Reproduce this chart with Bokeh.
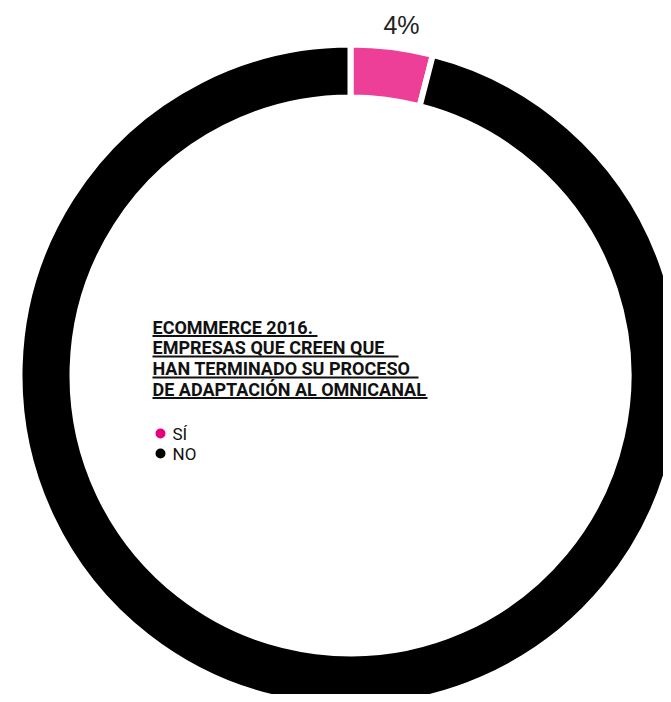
import math
from bokeh.plotting import figure
from bokeh.models import Range1d
from bokeh.core.properties import value
from bokeh.embed import file_html
from bokeh.resources import INLINE

# data
categories = ["SÍ", "NO"]
shares = [4, 96]
slice_colors = ["#EE3F98", "#000000"]
legend_colors = ["#E5007E", "#000000"]
pct_label = "4%"
title_lines = ["ECOMMERCE 2016.", "EMPRESAS QUE CREEN QUE ",
               "HAN TERMINADO SU PROCESO ", "DE ADAPTACIÓN AL OMNICANAL"]
underline_ends = [317, 398, 418, 427]

W, H = 663, 694
p = figure(width=W, height=H, output_backend="svg", toolbar_location=None,
           x_range=Range1d(0, W), y_range=Range1d(702 - H, 702),
           min_border=0)
p.axis.visible = False
p.grid.visible = False
p.outline_line_color = None
p.background_fill_color = "white"

def Y(py):
    return 702 - py

cx, cy = 350, Y(375)
total = sum(shares)
starts, ends = [], []
a = math.pi / 2
for s in shares:
    starts.append(a)
    a -= s / total * 2 * math.pi
    ends.append(a)

p.annular_wedge(x=[cx] * len(shares), y=[cy] * len(shares),
                inner_radius=278, outer_radius=331,
                start_angle=starts, end_angle=ends, direction="clock",
                fill_color=slice_colors, line_color="white", line_width=6)

# percentage label
p.text(x=[401], y=[Y(24)], text=[pct_label], text_font=value("Liberation Sans"),
       text_font_size="25px", text_color="#222222", text_align="center",
       text_baseline="middle")

# title with underlines
cap_mid = [326.5, 347, 368, 388.5]
p.text(x=[152] * 4, y=[Y(c) for c in cap_mid], text=title_lines,
       text_font=value("Roboto"), text_font_style="bold", text_font_size="18px",
       text_color="#111111", text_align="left", text_baseline="middle")
p.segment(x0=[152] * 4, y0=[Y(c + 9) for c in cap_mid],
          x1=underline_ends, y1=[Y(c + 9) for c in cap_mid],
          line_color="#111111", line_width=2)

# legend
leg_y = [433, 453]
p.scatter(x=[160, 160], y=[Y(v) for v in leg_y], size=10,
          fill_color=legend_colors, line_color=None)
p.text(x=[172, 172], y=[Y(v) for v in leg_y], text=categories,
       text_font=value("Roboto"), text_font_size="17px", text_color="#111111",
       text_align="left", text_baseline="middle")

open("out.html", "w").write(file_html(p, INLINE))
